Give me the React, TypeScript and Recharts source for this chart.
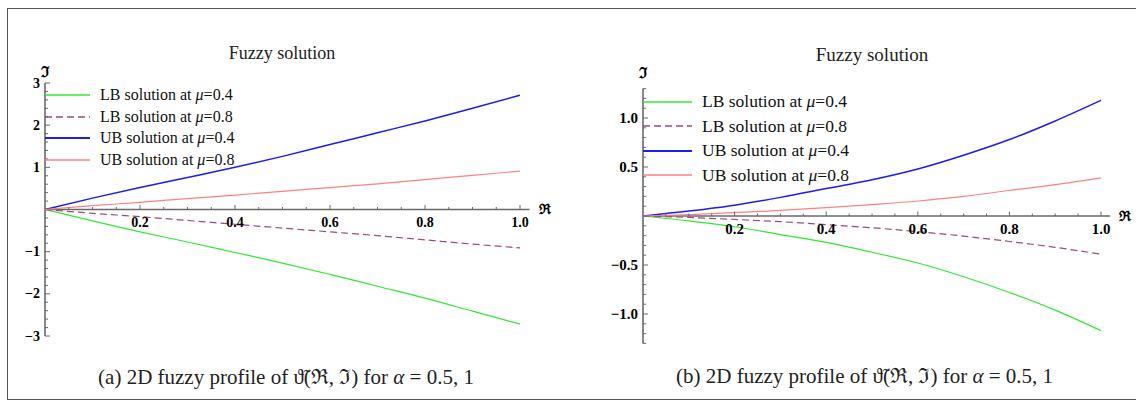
import React from "react";
import { LineChart, Line, XAxis, YAxis, ReferenceLine, ReferenceDot, Legend } from "recharts";

// R values sampled along the x axis
const rValues = [0, 0.1, 0.2, 0.3, 0.4, 0.5, 0.6, 0.7, 0.8, 0.9, 1.0];

// panel (a): alpha = 0.5
const lb04A = [0, -0.27, -0.53, -0.77, -1.02, -1.27, -1.54, -1.82, -2.1, -2.41, -2.72];
const lb08A = [0, -0.09, -0.17, -0.26, -0.35, -0.44, -0.53, -0.62, -0.72, -0.82, -0.91];
const ub04A = [0, 0.27, 0.52, 0.76, 1.0, 1.26, 1.54, 1.82, 2.1, 2.4, 2.71];
const ub08A = [0, 0.09, 0.17, 0.26, 0.34, 0.43, 0.52, 0.61, 0.71, 0.81, 0.91];

// panel (b): alpha = 1
const lb04B = [0, -0.05, -0.11, -0.19, -0.27, -0.37, -0.48, -0.62, -0.78, -0.96, -1.17];
const lb08B = [0, -0.015, -0.035, -0.058, -0.088, -0.12, -0.16, -0.205, -0.26, -0.32, -0.39];
const ub04B = [0, 0.05, 0.11, 0.19, 0.28, 0.37, 0.48, 0.62, 0.78, 0.97, 1.18];
const ub08B = [0, 0.015, 0.034, 0.057, 0.085, 0.117, 0.153, 0.2, 0.26, 0.32, 0.39];

const xMajor = [0.2, 0.4, 0.6, 0.8, 1.0];
const xLabels = ["0.2", "0.4", "0.6", "0.8", "1.0"];
const yMajorA = [-3, -2, -1, 1, 2, 3];
const yLabelsA = ["\u22123", "\u22122", "\u22121", "1", "2", "3"];
const yMajorB = [-1.0, -0.5, 0.5, 1.0];
const yLabelsB = ["\u22121.0", "\u22120.5", "0.5", "1.0"];

const SERIF = "Liberation Serif, Times New Roman, Times, DejaVu Serif, serif";
const AXIS = "#6a6a6a";

type Series = { key: string; bound: string; mu: string; color: string; width: number; dash?: string };

const series: Series[] = [
  { key: "lb04", bound: "LB", mu: "0.4", color: "#33e833", width: 1.2 },
  { key: "lb08", bound: "LB", mu: "0.8", color: "#9c4c80", width: 1.2, dash: "7 4" },
  { key: "ub04", bound: "UB", mu: "0.4", color: "#1c1cf5", width: 1.5 },
  { key: "ub08", bound: "UB", mu: "0.8", color: "#ff8080", width: 1.2 },
];

const buildRows = (lb04: number[], lb08: number[], ub04: number[], ub08: number[]) =>
  rValues.map((r, i) => ({ r, lb04: lb04[i], lb08: lb08[i], ub04: ub04[i], ub08: ub08[i] }));

const dataA = buildRows(lb04A, lb08A, ub04A, ub08A);
const dataB = buildRows(lb04B, lb08B, ub04B, ub08B);

type PanelProps = {
  left: number;
  width: number;
  margin: { top: number; right: number; bottom: number; left: number };
  data: any[];
  yDomain: [number, number];
  yMajor: number[];
  yLabels: string[];
  yMinorStep: number;
  tickFont: number;
  legendFont: number;
  legendLine: number;
  legendRow: number;
  legendTop: number;
  yLabelGap: number;
};

function Panel(p: PanelProps) {
  const [, ymax] = p.yDomain;
  const yMinor: number[] = [];
  const n = Math.round(ymax / p.yMinorStep);
  for (let i = -n; i <= n; i++) {
    const v = +(i * p.yMinorStep).toFixed(4);
    if (v !== 0 && !p.yMajor.includes(v) && Math.abs(v) <= ymax) yMinor.push(v);
  }
  const xMinor: number[] = [];
  for (let i = 1; i <= 20; i++) {
    const v = +(i * 0.05).toFixed(4);
    if (!xMajor.includes(v)) xMinor.push(v);
  }

  const yTick = (label: string | null) => (s: any) => (
    <g>
      <line x1={s.cx} y1={s.cy} x2={s.cx + (label ? 5 : 3)} y2={s.cy} stroke={AXIS} strokeWidth={1} />
      {label && (
        <text x={s.cx - 5} y={s.cy} textAnchor="end" dominantBaseline="central"
          style={{ fontFamily: SERIF }} fontWeight="bold" fontSize={p.tickFont} fill="#000">
          {label}
        </text>
      )}
    </g>
  );
  const xTick = (label: string | null) => (s: any) => (
    <g>
      <line x1={s.cx} y1={s.cy} x2={s.cx} y2={s.cy - (label ? 4.5 : 2.5)} stroke={AXIS} strokeWidth={1} />
      {label && (
        <text x={s.cx} y={s.cy + 13} textAnchor="middle" dominantBaseline="central"
          style={{ fontFamily: SERIF }} fontWeight="bold" fontSize={p.tickFont} fill="#000">
          {label}
        </text>
      )}
    </g>
  );

  const legendContent = () => (
    <div>
      {series.map((s) => (
        <div key={s.key} style={{ display: "flex", alignItems: "center", height: p.legendRow }}>
          <svg width={p.legendLine} height={4} style={{ display: "block" }}>
            <line x1={0} y1={2} x2={p.legendLine} y2={2} stroke={s.color}
              strokeWidth={s.width + 0.3} strokeDasharray={s.dash} />
          </svg>
          <span style={{ marginLeft: 10, fontFamily: SERIF, fontSize: p.legendFont, color: "#111", whiteSpace: "nowrap", lineHeight: 1 }}>
            {s.bound} solution at <i>{"\u03bc"}</i>={s.mu}
          </span>
        </div>
      ))}
    </div>
  );

  return (
    <div style={{ position: "absolute", left: p.left, top: 0 }}>
      <LineChart width={p.width} height={403} data={p.data} margin={p.margin}>
        <XAxis dataKey="r" type="number" domain={[0, 1.02]} hide />
        <YAxis type="number" domain={p.yDomain} hide allowDataOverflow />
        <ReferenceLine y={0} stroke={AXIS} strokeWidth={1.6} />
        <ReferenceLine x={0} stroke={AXIS} strokeWidth={1.6} />
        {yMinor.map((v) => (
          <ReferenceDot key={"ym" + v} x={0} y={v} r={0} ifOverflow="visible" shape={yTick(null)} />
        ))}
        {p.yMajor.map((v, i) => (
          <ReferenceDot key={"yM" + v} x={0} y={v} r={0} ifOverflow="visible" shape={yTick(p.yLabels[i])} />
        ))}
        {xMinor.map((v) => (
          <ReferenceDot key={"xm" + v} x={v} y={0} r={0} ifOverflow="visible" shape={xTick(null)} />
        ))}
        {xMajor.map((v, i) => (
          <ReferenceDot key={"xM" + v} x={v} y={0} r={0} ifOverflow="visible" shape={xTick(xLabels[i])} />
        ))}
        <ReferenceDot x={0} y={ymax} r={0} ifOverflow="visible"
          shape={(s: any) => (
            <text x={s.cx} y={s.cy - p.yLabelGap} textAnchor="middle" dominantBaseline="central"
              style={{ fontFamily: SERIF }} fontWeight="bold" fontSize={15} fill="#000">{"\u2111"}</text>
          )} />
        <ReferenceDot x={1.02} y={0} r={0} ifOverflow="visible"
          shape={(s: any) => (
            <text x={s.cx + 15} y={s.cy} textAnchor="middle" dominantBaseline="central"
              style={{ fontFamily: SERIF }} fontWeight="bold" fontSize={14} fill="#000">{"\u211c"}</text>
          )} />
        {series.map((s) => (
          <Line key={s.key} type="monotone" dataKey={s.key} name={`${s.bound} solution at \u03bc=${s.mu}`}
            stroke={s.color} strokeWidth={s.width} strokeDasharray={s.dash} dot={false}
            isAnimationActive={false} />
        ))}
        <Legend layout="horizontal" align="center" verticalAlign="middle" content={legendContent}
          wrapperStyle={{ left: p.margin.left, top: p.legendTop, width: 260 }} />
      </LineChart>
    </div>
  );
}

const textBox = (cx: number, cy: number, size: number): React.CSSProperties => ({
  position: "absolute",
  left: cx - 250,
  top: cy - size,
  width: 500,
  height: size * 2,
  lineHeight: `${size * 2}px`,
  textAlign: "center",
  fontFamily: SERIF,
  fontSize: size,
  color: "#222",
  whiteSpace: "nowrap",
});

const Caption = ({ tag }: { tag: string }) => (
  <>
    ({tag}) 2D fuzzy profile of {"\u03d1\u0303"}({"\u211c"}, {"\u2111"}) for <i>{"\u03b1"}</i> = 0.5, 1
  </>
);

export default function App() {
  return (
    <div style={{ position: "absolute", left: 0, top: 0, width: 1136, height: 403, background: "#fff", overflow: "hidden", fontFamily: SERIF }}>
      <div style={{ position: "absolute", left: 7, top: 7.5, width: 1140, height: 390, border: "1.5px solid #555" }} />
      <div style={textBox(282, 52.5, 18)}>Fuzzy solution</div>
      <div style={textBox(872, 54.5, 19)}>Fuzzy solution</div>
      <Panel left={0} width={560} data={dataA} yDomain={[-3, 3]}
        margin={{ top: 83, left: 45, right: 30.5, bottom: 67 }}
        yMajor={yMajorA} yLabels={yLabelsA} yMinorStep={0.2} tickFont={14}
        legendFont={16} legendLine={45} legendRow={21.7} legendTop={84.2} yLabelGap={11.5} />
      <Panel left={570} width={566} data={dataB} yDomain={[-1.3, 1.3]}
        margin={{ top: 88.6, left: 73, right: 25.8, bottom: 59.6 }}
        yMajor={yMajorB} yLabels={yLabelsB} yMinorStep={0.1} tickFont={15}
        legendFont={17.5} legendLine={49} legendRow={24.5} legendTop={89.5} yLabelGap={16} />
      <div style={textBox(286, 377, 21)}><Caption tag="a" /></div>
      <div style={textBox(864.5, 376, 21)}><Caption tag="b" /></div>
    </div>
  );
}
